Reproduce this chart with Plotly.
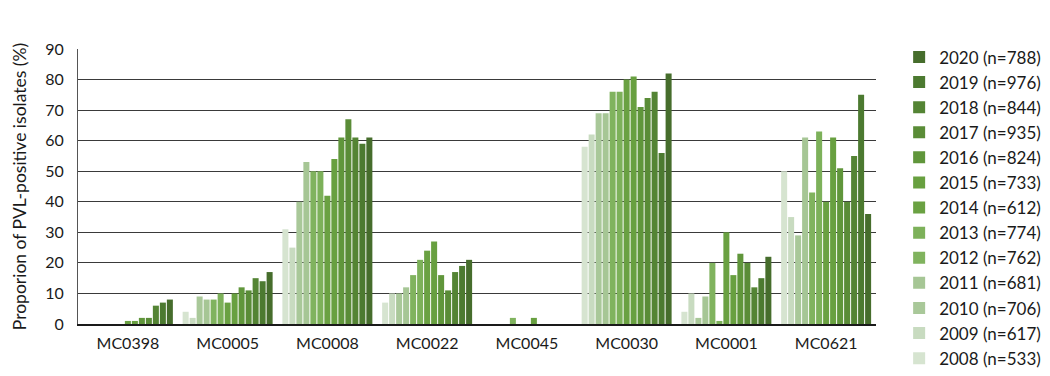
import plotly.graph_objects as go

# Clonal complexes on the x axis
categories = ["MC0398", "MC0005", "MC0008", "MC0022", "MC0045", "MC0030", "MC0001", "MC0621"]

# Years and isolate counts shown in the legend
years = ["2008", "2009", "2010", "2011", "2012", "2013", "2014",
         "2015", "2016", "2017", "2018", "2019", "2020"]
counts = [533, 617, 706, 681, 762, 774, 612, 733, 824, 935, 844, 976, 788]

# Proportion of PVL-positive isolates (%) per year, one value per category
v2008 = [0, 4, 31, 7, 0, 58, 4, 50]
v2009 = [0, 2, 25, 10, 0, 62, 10, 35]
v2010 = [0, 9, 40, 10, 0, 69, 2, 29]
v2011 = [0, 8, 53, 12, 0, 69, 9, 61]
v2012 = [0, 8, 50, 16, 2, 76, 20, 43]
v2013 = [0, 10, 50, 21, 0, 76, 1, 63]
v2014 = [1, 7, 42, 24, 0, 80, 30, 40]
v2015 = [1, 10, 54, 27, 2, 81, 16, 61]
v2016 = [2, 12, 61, 16, 0, 71, 23, 51]
v2017 = [2, 11, 67, 11, 0, 74, 20, 40]
v2018 = [6, 15, 61, 17, 0, 76, 12, 55]
v2019 = [7, 14, 59, 19, 0, 56, 15, 75]
v2020 = [8, 17, 61, 21, 0, 82, 22, 36]

series = [v2008, v2009, v2010, v2011, v2012, v2013, v2014,
          v2015, v2016, v2017, v2018, v2019, v2020]

colors = ["#d6e4d0", "#c8dbc0", "#a9c899", "#a6c695", "#80b35e", "#7db15a", "#6aa142",
          "#68a040", "#60963b", "#5a8c37", "#548434", "#4c7a30", "#466d2c"]

font_family = "Lato, 'Open Sans', sans-serif"

fig = go.Figure()
for yr, n, vals, col in zip(years, counts, series, colors):
    fig.add_trace(go.Bar(
        x=categories, y=vals, name=f"{yr} (n={n})",
        marker=dict(color=col, line=dict(width=0)),
    ))

fig.update_layout(
    width=1050, height=376,
    margin=dict(l=78, r=174, t=49, b=52, autoexpand=False),
    paper_bgcolor="white", plot_bgcolor="white",
    barmode="group", bargap=0.088, bargroupgap=0.14,
    font=dict(family=font_family, size=15, color="#1a1a1a"),
    showlegend=True,
    legend=dict(
        x=1.029, xanchor="left", y=1.035, yanchor="top",
        traceorder="reversed", maxheight=400,
        font=dict(size=17, color="#1a1a1a"),
        itemclick=False, bgcolor="rgba(0,0,0,0)",
    ),
    xaxis=dict(
        showgrid=False, showline=True, linecolor="#1a1a1a", linewidth=1.5,
        ticks="", tickfont=dict(size=16), ticklabelstandoff=4,
    ),
    yaxis=dict(
        range=[0, 90], dtick=10, tick0=0,
        showgrid=True, gridcolor="#3a3a3a", gridwidth=1,
        showline=True, linecolor="#555", linewidth=1,
        zeroline=False, ticks="", tickfont=dict(size=16),
        ticklabelstandoff=10,
        title=dict(text="Proporion of PVL-positive isolates (%)", font=dict(size=17.5), standoff=14),
    ),
)

fig.write_html("out.html")
